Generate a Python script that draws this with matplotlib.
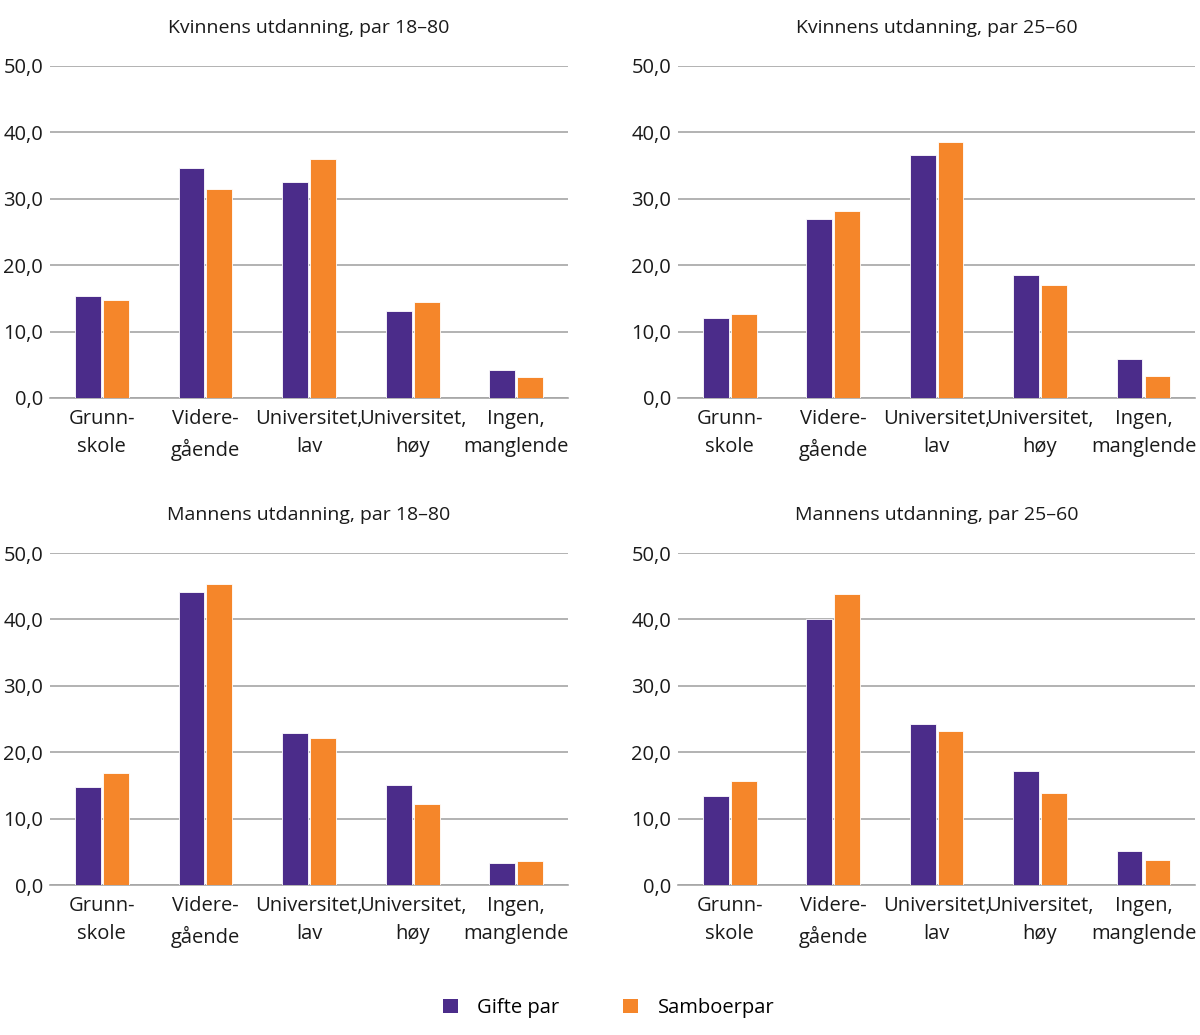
import numpy as np
import matplotlib.pyplot as plt
from matplotlib.patches import Patch

plt.rcParams['font.family'] = ['Open Sans', 'DejaVu Sans']

categories = ['Grunn-\nskole', 'Videre-\ngående', 'Universitet,\nlav',
              'Universitet,\nhøy', 'Ingen,\nmanglende']
series_names = ['Gifte par', 'Samboerpar']
titles = ['Kvinnens utdanning, par 18–80', 'Kvinnens utdanning, par 25–60',
          'Mannens utdanning, par 18–80', 'Mannens utdanning, par 25–60']

# values (percent)
kv_18_80_gifte = [15.4, 34.6, 32.5, 13.1, 4.2]
kv_18_80_sambo = [14.8, 31.5, 36.0, 14.5, 3.2]
kv_25_60_gifte = [12.0, 27.0, 36.6, 18.5, 5.9]
kv_25_60_sambo = [12.7, 28.2, 38.6, 17.0, 3.3]
mann_18_80_gifte = [14.8, 44.1, 22.9, 15.1, 3.3]
mann_18_80_sambo = [16.9, 45.3, 22.1, 12.2, 3.6]
mann_25_60_gifte = [13.4, 40.1, 24.2, 17.2, 5.1]
mann_25_60_sambo = [15.7, 43.8, 23.2, 13.9, 3.8]

purple = '#4b2c8a'
orange = '#f5862a'
grid_col = '#a6a6a6'

panels = [(kv_18_80_gifte, kv_18_80_sambo), (kv_25_60_gifte, kv_25_60_sambo),
          (mann_18_80_gifte, mann_18_80_sambo), (mann_25_60_gifte, mann_25_60_sambo)]

# axes rectangles [left, bottom, width, height] in figure fractions
rects = [[0.0417, 0.6155, 0.4317, 0.3208], [0.565, 0.6155, 0.431, 0.3208],
         [0.0417, 0.1449, 0.4317, 0.3208], [0.565, 0.1449, 0.431, 0.3208]]

fig = plt.figure(figsize=(12, 10.35), dpi=100)
x = np.arange(len(categories))
w = 0.25

for rect, title, (g, s) in zip(rects, titles, panels):
    ax = fig.add_axes(rect)
    ax.bar(x - w / 2 - 0.01, g, width=w, color=purple, edgecolor='white', linewidth=0.6, zorder=3)
    ax.bar(x + w / 2 + 0.01, s, width=w, color=orange, edgecolor='white', linewidth=0.6, zorder=3)
    ax.set_xlim(-0.5, len(categories) - 0.5)
    ax.set_ylim(0, 50)
    ax.set_yticks(np.arange(0, 51, 10))
    ax.set_yticklabels([f'{v:.1f}'.replace('.', ',') for v in np.arange(0, 51, 10)])
    ax.set_xticks(x)
    ax.set_xticklabels(categories, linespacing=1.55)
    ax.tick_params(axis='both', length=0, labelsize=14.5, colors='#1a1a1a')
    ax.tick_params(axis='y', pad=5)
    ax.tick_params(axis='x', pad=8)
    ax.grid(axis='y', color=grid_col, linewidth=1.2, zorder=0)
    for sp in ['top', 'right', 'left']:
        ax.spines[sp].set_visible(False)
    ax.spines['bottom'].set_color(grid_col)
    ax.spines['bottom'].set_linewidth(1.2)
    ax.text(0.5, 1.114, title, transform=ax.transAxes, ha='center', va='center',
            fontsize=14, color='#1a1a1a')

handles = [Patch(facecolor=purple), Patch(facecolor=orange)]
fig.legend(handles, series_names, loc='center', bbox_to_anchor=(0.507, 0.026),
           ncol=2, frameon=False, fontsize=14.5, handlelength=0.75, handleheight=0.75,
           handletextpad=0.95, columnspacing=3.2)

fig.savefig('out.png', dpi=100)
